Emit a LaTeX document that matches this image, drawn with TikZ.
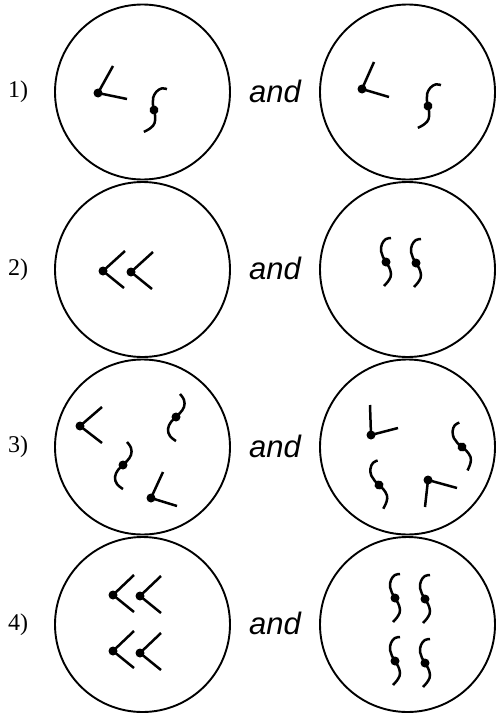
\documentclass[tikz,border=0pt]{standalone}
\usepackage{fontspec}
\setmainfont{Liberation Serif}
\newfontfamily\andfont{Liberation Sans}
\tikzset{
  mol/.style={line width=2.5pt},
  squigA/.pic={
    \draw[mol] plot[smooth,tension=0.7] coordinates {(5,-24) (0,-23) (-4,-18) (-5,-11) (-3,-5) (0,0) (3,5) (5,12) (3,18) (-2,24)};
    \fill (0,0) circle (4.5pt);
  },
  squigB/.pic={
    \draw[mol] plot[smooth,tension=0.7] coordinates {(4,-23) (8,-17) (8,-10) (4,-4) (0,0) (-5,5) (-8,12) (-6,19) (0,24)};
    \fill (0,0) circle (4.5pt);
  }
}
\newcommand\molL[6]{\draw[mol] (#1,#2) ++(#3,#4) -- (#1,#2) -- ++(#5,#6); \fill (#1,#2) circle (4.5pt);}
\begin{document}
\begin{tikzpicture}[x=1pt,y=-1pt,
  ring/.style={circle,draw,line width=1.9pt,minimum size=175pt,inner sep=0pt},
  num/.style={font=\fontsize{24}{24}\selectfont,inner sep=0pt},
  conj/.style={font=\andfont\itshape\fontsize{31}{31}\selectfont,inner sep=0pt}]
\useasboundingbox (0,0) rectangle (495,717);
% circles
\node[ring] (l1) at (142.5,92) {};
\node[ring] (r1) at (407.5,92) {};
\node[ring] (l2) at (142.5,269.5) {};
\node[ring] (r2) at (407.5,269.5) {};
\node[ring] (l3) at (142.5,447) {};
\node[ring] (r3) at (407.5,447) {};
\node[ring] (l4) at (142.5,624.5) {};
\node[ring] (r4) at (407.5,624.5) {};
% labels
\node[num] (n1) at (18,92) {1)};
\node[num] (n2) at (18,269.5) {2)};
\node[num] (n3) at (18,447) {3)};
\node[num] (n4) at (18,624.5) {4)};
\node[conj] (a1) at (275,91) {and};
\node[conj] (a2) at (275,268.5) {and};
\node[conj] (a3) at (275,446) {and};
\node[conj] (a4) at (275,623.5) {and};
% row 1
\molL{98}{93}{15}{-27}{29}{6}
\pic[rotate=-20] at (154,110) {squigA};
\molL{362}{89}{12}{-27}{27}{8}
\pic[rotate=-20] at (428,106) {squigA};
% row 2
\molL{103}{271}{22}{-20}{21}{17}
\molL{131}{272}{22}{-20}{21}{17}
\pic at (386,262) {squigA};
\pic at (416,263) {squigA};
% row 3
\molL{80}{426}{22}{-19}{22}{17}
\pic at (176,417) {squigB};
\pic at (123,465) {squigB};
\molL{151}{498}{12}{-26}{26}{8}
\molL{371}{435}{-1}{-30}{27}{-7}
\pic[rotate=18] at (462,447) {squigA};
\pic[rotate=15] at (379,485) {squigA};
\molL{428}{480}{29}{8}{-3}{27}
% row 4
\molL{113}{595}{21}{-20}{21}{17}
\molL{140}{596}{21}{-20}{21}{17}
\molL{113}{651}{21}{-20}{21}{17}
\molL{140}{653}{21}{-20}{21}{17}
\pic at (395,598) {squigA};
\pic at (425,599) {squigA};
\pic at (395,661) {squigA};
\pic at (425,663) {squigA};
\end{tikzpicture}
\end{document}
